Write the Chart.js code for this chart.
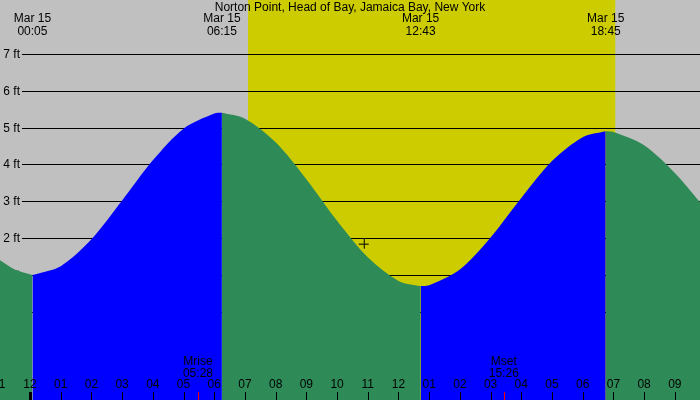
<!DOCTYPE html>
<html>
<head>
<meta charset="utf-8">
<script src="https://cdn.jsdelivr.net/npm/chart.js@4"></script>
<style>
  body { margin: 0; }
  #wrap { width: 700px; height: 400px; }
</style>
</head>
<body>
<div id="wrap"><canvas id="tide"></canvas></div>
<script>
// hours since midnight Mar 15, tide height in ft
const fall1 = [[-0.98, 1.4], [-0.5, 1.15], [0.08, 1.0]];
const rise1 = [[0.08, 1.0], [1, 1.24], [2, 1.97], [3, 3.02], [4, 4.11], [5, 4.97], [6, 5.38], [6.25, 5.4]];
const fall2 = [[6.25, 5.4], [7, 5.24], [8, 4.6], [9, 3.6], [10, 2.47], [11, 1.48], [12, 0.84], [12.72, 0.7]];
const rise2 = [[12.72, 0.7], [13, 0.72], [14, 1.15], [15, 2.02], [16, 3.09], [17, 4.09], [18, 4.74], [18.75, 4.9]];
const fall3 = [[18.75, 4.9], [19, 4.88], [20, 4.52], [21, 3.77], [21.85, 2.95]];

const ftLabels = [0, 1, 2, 3, 4, 5, 6, 7];
const hourLabels = ['11', '12', '01', '02', '03', '04', '05', '06', '07', '08', '09', '10', '11', '12',
  '01', '02', '03', '04', '05', '06', '07', '08', '09'];
const extremes = [[0.08, '00:05'], [6.25, '06:15'], [12.72, '12:43'], [18.75, '18:45']];
const moon = [[5.47, 'Mrise', '05:28'], [15.43, 'Mset', '15:26']];
const sunUp = 7.1, sunDown = 19.06;
const marker = [10.87, 1.85];

const BLUE = '#0000ff', GREEN = '#2e8b57';
const toPts = a => a.map(p => ({ x: p[0], y: p[1] }));
const seg = (d, c) => ({ data: toPts(d), borderWidth: 0, backgroundColor: c, fill: 'start', pointRadius: 0, tension: 0.3 });

const backdrop = {
  id: 'backdrop',
  beforeDatasetsDraw(chart) {
    const { ctx, scales: { x, y }, width, height } = chart;
    ctx.save();
    ctx.fillStyle = '#c0c0c0';
    ctx.fillRect(0, 0, width, height);
    ctx.fillStyle = '#cccc00';
    ctx.fillRect(x.getPixelForValue(sunUp), 0, x.getPixelForValue(sunDown) - x.getPixelForValue(sunUp), height);
    ctx.strokeStyle = '#000';
    ctx.lineWidth = 1;
    ctx.font = '12px "Liberation Sans", Arial, sans-serif';
    ctx.fillStyle = '#000';
    ctx.textAlign = 'right';
    ctx.textBaseline = 'middle';
    ftLabels.forEach(v => {
      const py = Math.round(y.getPixelForValue(v)) + 0.5;
      ctx.beginPath(); ctx.moveTo(22, py); ctx.lineTo(width, py); ctx.stroke();
      ctx.fillText(v + ' ft', 20, py);
    });
    ctx.restore();
  },
  afterDatasetsDraw(chart) {
    const { ctx, scales: { x, y }, width, height } = chart;
    ctx.save();
    ctx.font = '12px "Liberation Sans", Arial, sans-serif';
    ctx.fillStyle = '#000';
    ctx.textAlign = 'center';
    ctx.textBaseline = 'middle';
    ctx.fillText('Norton Point, Head of Bay, Jamaica Bay, New York', width / 2, 8);
    extremes.forEach(e => {
      const px = x.getPixelForValue(e[0]);
      ctx.fillText('Mar 15', px, 19);
      ctx.fillText(e[1], px, 32);
    });
    hourLabels.forEach((lab, i) => {
      const px = x.getPixelForValue(i - 1);
      ctx.fillText(lab, px, 385);
      ctx.fillRect(Math.round(px) - (i === 1 ? 1 : 0), 392, i === 1 ? 3 : 1, 8);
    });
    moon.forEach(m => {
      const px = x.getPixelForValue(m[0]);
      ctx.fillStyle = '#000';
      ctx.fillText(m[1], px, 362);
      ctx.fillText(m[2], px, 374);
      ctx.fillStyle = '#ff0000';
      ctx.fillRect(Math.round(px), 392, 1, 8);
    });
    const mx = x.getPixelForValue(marker[0]), my = y.getPixelForValue(marker[1]);
    ctx.strokeStyle = '#000';
    ctx.beginPath();
    ctx.moveTo(mx - 5, my + 0.5); ctx.lineTo(mx + 5, my + 0.5);
    ctx.moveTo(mx + 0.5, my - 5); ctx.lineTo(mx + 0.5, my + 5);
    ctx.stroke();
    ctx.restore();
  }
};

new Chart(document.getElementById('tide'), {
  type: 'line',
  data: {
    datasets: [seg(fall1, GREEN), seg(rise1, BLUE), seg(fall2, GREEN), seg(rise2, BLUE), seg(fall3, GREEN)]
  },
  options: {
    responsive: true,
    maintainAspectRatio: false,
    animation: false,
    layout: { padding: 0 },
    plugins: { legend: { display: false }, tooltip: { enabled: false } },
    scales: {
      x: { type: 'linear', min: -0.977, max: 21.82, display: false },
      y: { min: -2.39, max: 8.46, display: false }
    }
  },
  plugins: [backdrop]
});
</script>
</body>
</html>
